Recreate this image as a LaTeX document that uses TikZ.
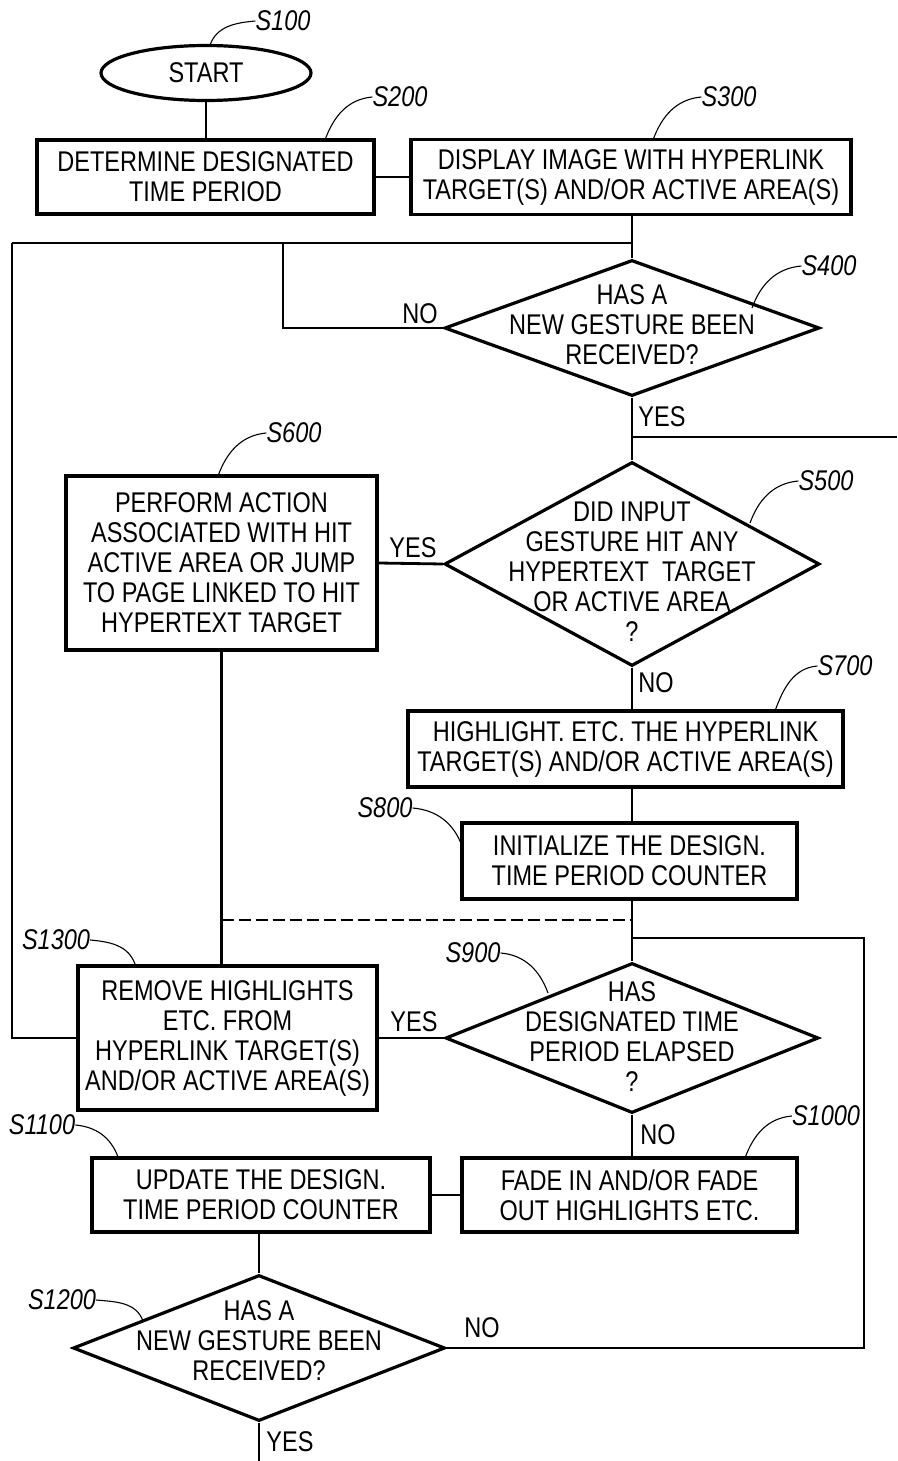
\documentclass[tikz,border=0pt]{standalone}
\usepackage{fontspec}
\setmainfont[FakeStretch=0.825]{Liberation Sans}
\usetikzlibrary{shapes.geometric}
\begin{document}
\begin{tikzpicture}[x=1pt,y=-1pt,
  every node/.style={font=\fontsize{28.5}{30}\selectfont},
  box/.style={draw,line width=3.2pt,align=center,inner sep=0pt},
  dia/.style={draw,diamond,line width=3.2pt,inner sep=0pt},
  dtext/.style={align=center,inner sep=0pt},
  conn/.style={line width=2.8pt},
  lead/.style={line width=1.1pt},
  lab/.style={font=\fontsize{28.5}{30}\selectfont\itshape,inner sep=0pt},
  yn/.style={inner sep=0pt}]
\useasboundingbox (0,0) rectangle (897,1461);

% nodes
\node[draw,ellipse,line width=3.2pt,minimum width=210,minimum height=55,inner sep=0pt] (start) at (206,73) {START};
\node[box,minimum width=337,minimum height=74] (s200) at (205.5,177) {DETERMINE DESIGNATED\\TIME PERIOD};
\node[box,minimum width=440,minimum height=75] (s300) at (631,177) {DISPLAY IMAGE WITH HYPERLINK\\TARGET(S) AND/OR ACTIVE AREA(S)};
\node[dia,minimum width=375,minimum height=136] (s400) at (632,328) {};
\node[dtext] (s400t) at (632,325) {HAS A\\NEW GESTURE BEEN\\RECEIVED?};
\node[dia,minimum width=375,minimum height=204] (s500) at (632,564) {};
\node[dtext] (s500t) at (632,572) {DID INPUT\\GESTURE HIT ANY\\HYPERTEXT\ \ TARGET\\OR ACTIVE AREA\\?};
\node[box,minimum width=311,minimum height=174] (s600) at (221.5,563) {PERFORM ACTION\\ASSOCIATED WITH HIT\\ACTIVE AREA OR JUMP\\TO PAGE LINKED TO HIT\\HYPERTEXT TARGET};
\node[box,minimum width=435,minimum height=76] (s700) at (625.5,749) {HIGHLIGHT. ETC. THE HYPERLINK\\TARGET(S) AND/OR ACTIVE AREA(S)};
\node[box,minimum width=335,minimum height=76] (s800) at (629.5,861) {INITIALIZE THE DESIGN.\\TIME PERIOD COUNTER};
\node[dia,minimum width=373,minimum height=150] (s900) at (632,1038) {};
\node[dtext] (s900t) at (632,1037) {HAS\\DESIGNATED TIME\\PERIOD ELAPSED\\?};
\node[box,minimum width=299,minimum height=144] (s1300) at (227.5,1038) {REMOVE HIGHLIGHTS\\ETC. FROM\\HYPERLINK TARGET(S)\\AND/OR ACTIVE AREA(S)};
\node[box,minimum width=335,minimum height=74] (s1000) at (629.5,1195) {FADE IN AND/OR FADE\\OUT HIGHLIGHTS ETC.};
\node[box,minimum width=338,minimum height=74] (s1100) at (261,1195) {UPDATE THE DESIGN.\\TIME PERIOD COUNTER};
\node[dia,minimum width=372,minimum height=146] (s1200) at (259,1348) {};
\node[dtext] (s1200t) at (259,1341) {HAS A\\NEW GESTURE BEEN\\RECEIVED?};

% step labels
\node[lab] (l100) at (283,21) {S100};
\node[lab] (l200) at (400,97) {S200};
\node[lab] (l300) at (729,97) {S300};
\node[lab] (l400) at (829,266) {S400};
\node[lab] (l500) at (826,481) {S500};
\node[lab] (l600) at (294,433) {S600};
\node[lab] (l700) at (845,666) {S700};
\node[lab] (l800) at (385,808) {S800};
\node[lab] (l900) at (473,953) {S900};
\node[lab] (l1300) at (56,940) {S1300};
\node[lab] (l1000) at (826,1116) {S1000};
\node[lab] (l1100) at (42,1125) {S1100};
\node[lab] (l1200) at (62,1300) {S1200};

% leaders
\draw[lead] (210,45) to[out=70,in=185] (l100.west);
\draw[lead] (325,140) to[out=70,in=185] (l200.west);
\draw[lead] (653,140) to[out=70,in=185] (l300.west);
\draw[lead] (752,308) to[out=70,in=185] (l400.west);
\draw[lead] (750,523) to[out=70,in=185] (l500.west);
\draw[lead] (218,476) to[out=70,in=185] (l600.west);
\draw[lead] (775,711) to[out=70,in=185] (l700.west);
\draw[lead] (l800.east) to[out=-5,in=110] (462,846);
\draw[lead] (l900.east) to[out=-5,in=110] (548,993);
\draw[lead] (l1300.east) to[out=-5,in=110] (135,964);
\draw[lead] (745,1158) to[out=70,in=185] (l1000.west);
\draw[lead] (l1100.east) to[out=-5,in=110] (118,1157);
\draw[lead] (l1200.east) to[out=-5,in=110] (143,1321);

% junction coordinates
\coordinate (jL) at (12,243);
\coordinate (jM) at (283,243);
\coordinate (yR) at (897,437);
\coordinate (dY) at (0,920);
\coordinate (rT) at (864,938);
\coordinate (rB) at (864,1348);
\coordinate (bot) at (259,1461);

% connectors
\draw[conn] (start.south) -- (start.south |- s200.north);
\draw[conn] (s200.east) -- (s300.west);
\draw[conn] (s400.north |- s300.south) -- (s400.north);
\draw[conn] (jL) -- (s400.north |- jL);
\draw[conn] (jM) |- (s400.west);
\draw[conn] (jL) |- (s1300.west);
\draw[conn] (s400.south) -- (s500.north);
\draw[conn] (s400.south |- yR) -- (yR);
\draw[conn] (s500.west) -- (s600.east);
\draw[conn] (s500.south) -- (s500.south |- s700.north);
\draw[conn] (s500.south |- s700.south) -- (s500.south |- s800.north);
\draw[conn] (s900.north |- s800.south) -- (s900.north);
\draw[conn] (s600.south) -- (s600.south |- s1300.north);
\draw[conn,dashed,dash pattern=on 12pt off 5pt] (s600.south |- dY) -- (s900.north |- dY);
\draw[conn] (s900.north |- rT) -- (rT) -- (rB) -- (s1200.east);
\draw[conn] (s900.west) -- (s1300.east);
\draw[conn] (s900.south) -- (s900.south |- s1000.north);
\draw[conn] (s1000.west) -- (s1100.east);
\draw[conn] (s1200.north |- s1100.south) -- (s1200.north);
\draw[conn] (s1200.south) -- (bot);

% yes/no labels
\node[yn] (n400) at (420,314) {NO};
\node[yn] (y400) at (662,417) {YES};
\node[yn] (y500) at (413,548) {YES};
\node[yn] (n500) at (656,683) {NO};
\node[yn] (y900) at (414,1022) {YES};
\node[yn] (n900) at (658,1135) {NO};
\node[yn] (n1200) at (482,1328) {NO};
\node[yn] (y1200) at (290,1442) {YES};
\end{tikzpicture}
\end{document}
